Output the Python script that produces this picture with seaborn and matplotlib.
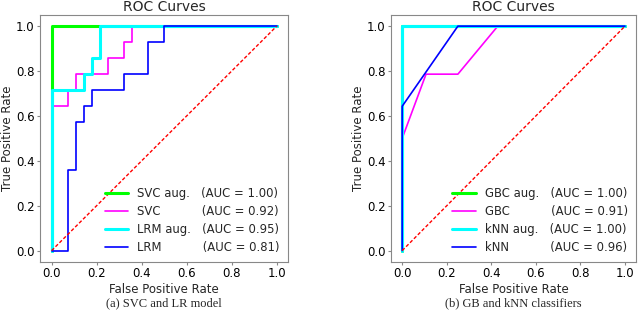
import seaborn as sns
import matplotlib.pyplot as plt
import numpy as np

# ROC points (14 positives, 28 negatives)
svc_aug_fpr = [0.0, 0.0, 1.0]
svc_aug_tpr = [0.0, 1.0, 1.0]
svc_fpr = [0.0, 0.0, 0.071, 0.071, 0.107, 0.107, 0.25, 0.25, 0.321, 0.321, 0.357, 0.357, 1.0]
svc_tpr = [0.0, 0.643, 0.643, 0.714, 0.714, 0.786, 0.786, 0.857, 0.857, 0.929, 0.929, 1.0, 1.0]
lrm_aug_fpr = [0.0, 0.0, 0.143, 0.143, 0.179, 0.179, 0.214, 0.214, 1.0]
lrm_aug_tpr = [0.0, 0.714, 0.714, 0.786, 0.786, 0.857, 0.857, 1.0, 1.0]
lrm_fpr = [0.0, 0.071, 0.071, 0.107, 0.107, 0.143, 0.143, 0.179, 0.179, 0.321, 0.321, 0.429, 0.429, 0.5, 0.5, 1.0]
lrm_tpr = [0.0, 0.0, 0.357, 0.357, 0.571, 0.571, 0.643, 0.643, 0.714, 0.714, 0.786, 0.786, 0.929, 0.929, 1.0, 1.0]

gbc_aug_fpr = [0.0, 0.0, 1.0]
gbc_aug_tpr = [0.0, 1.0, 1.0]
gbc_fpr = [0.0, 0.0, 0.107, 0.25, 0.429, 1.0]
gbc_tpr = [0.0, 0.5, 0.786, 0.786, 1.0, 1.0]
knn_aug_fpr = [0.0, 0.0, 1.0]
knn_aug_tpr = [0.0, 1.0, 1.0]
knn_fpr = [0.0, 0.0, 0.25, 1.0]
knn_tpr = [0.0, 0.643, 1.0, 1.0]

left_labels = ['SVC aug.   (AUC = 1.00)', 'SVC           (AUC = 0.92)',
               'LRM aug.   (AUC = 0.95)', 'LRM           (AUC = 0.81)']
right_labels = ['GBC aug.   (AUC = 1.00)', 'GBC           (AUC = 0.91)',
                'kNN aug.   (AUC = 1.00)', 'kNN           (AUC = 0.96)']
captions = ['(a) SVC and LR model', '(b) GB and kNN classifiers']

colors = ['lime', 'magenta', 'cyan', 'blue']
widths = [2.2, 1.2, 2.2, 1.2]

sns.set_style('ticks')
plt.rcParams['font.family'] = ['DejaVu Sans']
plt.rcParams['axes.edgecolor'] = '#888888'
plt.rcParams['xtick.color'] = '#888888'
plt.rcParams['ytick.color'] = '#888888'
plt.rcParams['xtick.labelcolor'] = 'black'
plt.rcParams['ytick.labelcolor'] = 'black'


def roc_panel(ax, curves, labels, caption):
    for (fpr, tpr), lab, c, w in zip(curves, labels, colors, widths):
        sns.lineplot(x=fpr, y=tpr, ax=ax, color=c, lw=w, label=lab,
                     sort=False, estimator=None)
    sns.lineplot(x=[0, 1], y=[0, 1], ax=ax, color='red', lw=1, dashes=False,
                 sort=False, estimator=None)
    ax.lines[-1].set_dashes([2.5, 1.5])
    ax.set_xlim(-0.05, 1.05)
    ax.set_ylim(-0.05, 1.05)
    ax.set_xticks(np.arange(0, 1.01, 0.2))
    ax.set_yticks(np.arange(0, 1.01, 0.2))
    ax.tick_params(length=2, pad=2, labelsize=8.5, width=0.8)
    ax.set_xlabel('False Positive Rate', fontsize=8.5, labelpad=2)
    ax.set_ylabel('True Positive Rate', fontsize=8.5, labelpad=1.5)
    ax.set_title('ROC Curves', fontsize=10, pad=3)
    ax.legend(loc='lower right', frameon=False, fontsize=8.4,
              handlelength=2.0, borderaxespad=0.3, labelspacing=0.42)
    for s in ax.spines.values():
        s.set_linewidth(0.8)
    ax.text(0.5, -0.145, caption, transform=ax.transAxes, ha='center', va='top',
            fontsize=9, family='Liberation Serif')


fig = plt.figure(figsize=(6.4, 3.17), dpi=100)
ax1 = fig.add_axes([0.063, 0.174, 0.387, 0.779])
ax2 = fig.add_axes([0.611, 0.174, 0.383, 0.779])

roc_panel(ax1, [(svc_aug_fpr, svc_aug_tpr), (svc_fpr, svc_tpr),
                (lrm_aug_fpr, lrm_aug_tpr), (lrm_fpr, lrm_tpr)],
          left_labels, captions[0])
roc_panel(ax2, [(gbc_aug_fpr, gbc_aug_tpr), (gbc_fpr, gbc_tpr),
                (knn_aug_fpr, knn_aug_tpr), (knn_fpr, knn_tpr)],
          right_labels, captions[1])

fig.savefig('out.png', dpi=100)
